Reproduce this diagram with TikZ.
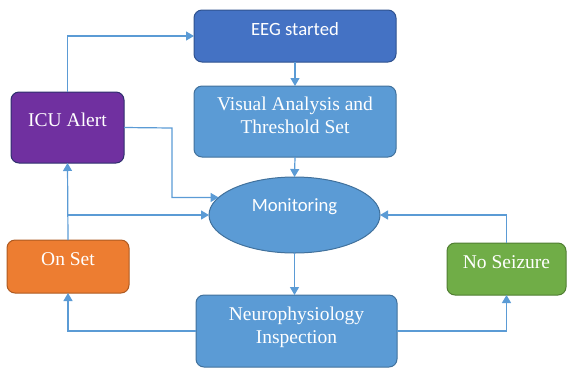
\documentclass[tikz,border=0pt]{standalone}
\usepackage{fontspec}
\setmainfont{Liberation Serif}
\newfontfamily\calibri{Carlito}
\usetikzlibrary{arrows.meta}
\usetikzlibrary{shapes}

\definecolor{eegBlue}{HTML}{4472C4}
\definecolor{eegLine}{HTML}{2F528F}
\definecolor{stepBlue}{HTML}{5B9BD5}
\definecolor{stepLine}{HTML}{41719C}
\definecolor{icuPurple}{HTML}{7030A0}
\definecolor{icuLine}{HTML}{2E2F6E}
\definecolor{onsetOrange}{HTML}{ED7D31}
\definecolor{onsetLine}{HTML}{AE5A21}
\definecolor{calmGreen}{HTML}{70AD47}
\definecolor{calmLine}{HTML}{507E32}

\begin{document}
\begin{tikzpicture}[x = 1pt, y = -1pt]
	\tikzstyle{boxStyle} = [shape = rectangle, rounded corners = 8pt, line width = 1pt, text = white, inner sep = 0pt, outer sep = 0pt, align = center, font = \rmfamily\fontsize{19.5}{23}\selectfont]
	\tikzstyle{oneLine} = [text height = 6pt, text depth = 8pt]
	\tikzstyle{twoLines} = [text height = 30pt, text depth = 6pt]
	\tikzstyle{arrowStyle} = [draw = stepBlue, line width = 1.2pt, -{Triangle[length = 8pt, width = 9pt]}]
	\useasboundingbox (0, 0) rectangle (567, 368);
	\node[boxStyle, oneLine, fill = eegBlue, draw = eegLine, minimum width = 202pt, minimum height = 52pt, font = \calibri\fontsize{18.7}{22}\selectfont] (eeg) at (295, 36) {EEG started};
	\node[boxStyle, twoLines, fill = stepBlue, draw = stepLine, minimum width = 202pt, minimum height = 71pt] (visual) at (295, 121.5) {Visual Analysis and\\Threshold Set};
	\node[boxStyle, oneLine, fill = icuPurple, draw = icuLine, minimum width = 113pt, minimum height = 71pt] (icu) at (67.5, 127.5) {ICU Alert};
	\node[boxStyle, shape = ellipse, rounded corners = 0pt, text height = 12pt, text depth = 20pt, fill = stepBlue, draw = stepLine, minimum width = 171pt, minimum height = 76pt, font = \calibri\fontsize{18.7}{22}\selectfont] (monitor) at (294.5, 215) {Monitoring};
	\node[boxStyle, oneLine, fill = onsetOrange, draw = onsetLine, minimum width = 122pt, minimum height = 53pt] (onset) at (68, 266.5) {On Set};
	\node[boxStyle, oneLine, fill = calmGreen, draw = calmLine, minimum width = 119pt, minimum height = 52pt] (noseizure) at (506.5, 269) {No Seizure};
	\node[boxStyle, twoLines, fill = stepBlue, draw = stepLine, minimum width = 201pt, minimum height = 72pt] (neuro) at (296.5, 331) {Neurophysiology\\Inspection};
	\coordinate (icuBend) at (172, 128);
	\draw[arrowStyle] (icu.north) |- (eeg.west);
	\draw[arrowStyle] (eeg.south) -- (visual.north);
	\draw[arrowStyle] (visual.south) -- (monitor.north);
	\draw[arrowStyle] (icu.east) -- (icuBend) |- (monitor.167);
	\draw[arrowStyle] (onset.north) -- (icu.south);
	\draw[arrowStyle] (onset.north |- monitor.west) -- (monitor.west);
	\draw[arrowStyle] (monitor.south) -- (monitor.south |- neuro.north);
	\draw[arrowStyle] (neuro.west) -| (onset.south);
	\draw[arrowStyle] (neuro.east) -| (noseizure.south);
	\draw[arrowStyle] (noseizure.north) |- (monitor.east);
\end{tikzpicture}
\end{document}
